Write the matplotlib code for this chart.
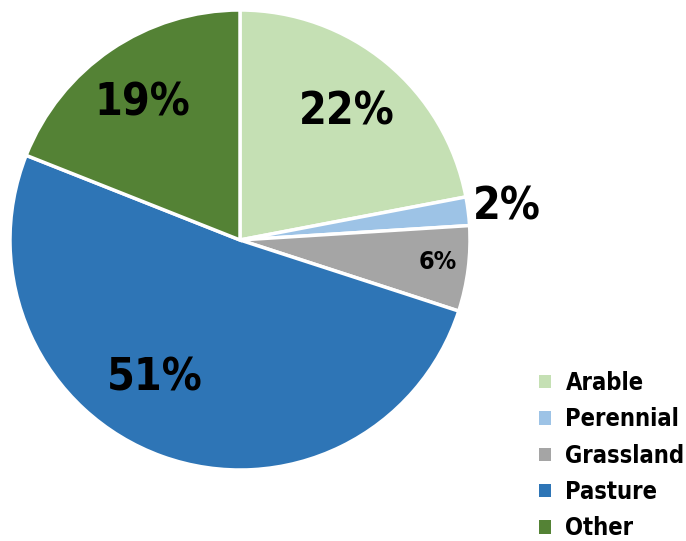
import matplotlib.pyplot as plt
from matplotlib.patches import Patch

# dane
kategorie = ['Arable', 'Perennial', 'Grassland', 'Pasture', 'Other']
udzialy = [22, 2, 6, 51, 19]
kolory = ['#C5E0B4', '#9DC3E6', '#A5A5A5', '#2E75B6', '#548235']
etykiety = ['22%', '2%', '6%', '51%', '19%']

plt.rcParams['font.family'] = ['DejaVu Sans']
plt.rcParams['font.stretch'] = 'condensed'

fig = plt.figure(figsize=(6.86, 5.41), dpi=100)
ax = fig.add_axes([10/686, 71/541, 460/686, 460/541])

wedges, _ = ax.pie(udzialy, colors=kolory, startangle=90, counterclock=False,
                   radius=1, wedgeprops=dict(edgecolor='white', linewidth=2.5))
ax.set_xlim(-1, 1)
ax.set_ylim(-1, 1)
ax.set_aspect('equal')
ax.axis('off')

# pozycje etykiet (wsp. danych) i rozmiary
poz = [(0.465, 0.555), (1.161, 0.143), (0.861, -0.096), (-0.370, -0.600), (-0.426, 0.596)]
rozm = [32, 32, 18, 32, 32]
for (x, y), t, s in zip(poz, etykiety, rozm):
    ax.text(x, y, t, ha='center', va='center', fontsize=s, fontweight='bold',
            fontstretch='condensed', color='black')

uchwyty = [Patch(facecolor=k, edgecolor='none') for k in kolory]
fig.legend(uchwyty, kategorie, loc='lower left', bbox_to_anchor=(530/686, -0.016),
           frameon=False, prop=dict(size=17, weight='bold', stretch='condensed'),
           handlelength=0.5, handleheight=0.5,
           handletextpad=0.6, labelspacing=0.52, borderaxespad=0.0)

fig.savefig('out.png', dpi=100)
